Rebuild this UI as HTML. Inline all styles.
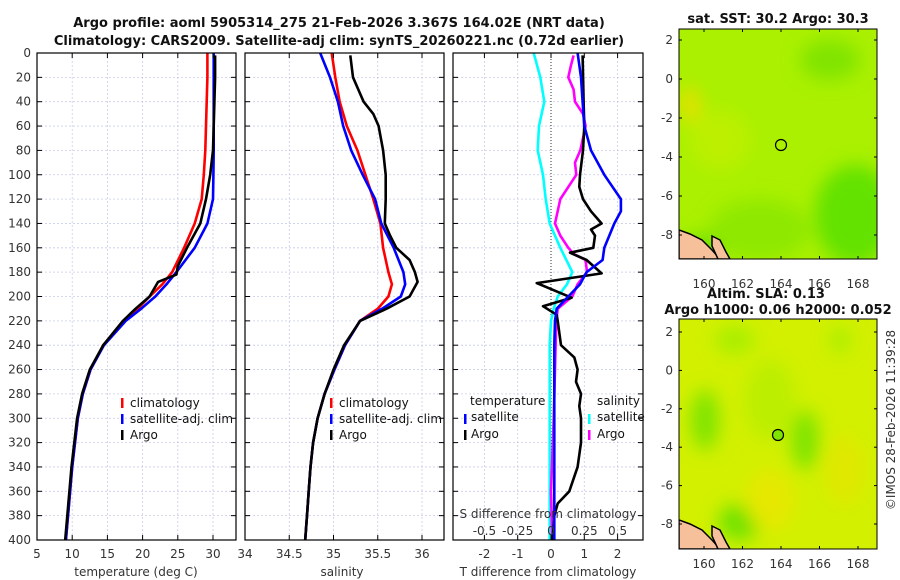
<!DOCTYPE html>
<html><head><meta charset="utf-8">
<style>
html,body{margin:0;padding:0;background:#fff;}
svg{display:block;font-family:"DejaVu Sans","Liberation Sans",sans-serif;}
.t{font-size:12px;fill:#333;}
.b{font-size:13px;font-weight:bold;fill:#111;}
</style></head><body>
<svg id="c" width="900" height="580" viewBox="0 0 900 580">
<defs>
<filter id="bl" x="-50%" y="-50%" width="200%" height="200%"><feGaussianBlur stdDeviation="9"/></filter>
<clipPath id="m1c"><rect x="679" y="29" width="198" height="230"/></clipPath>
<clipPath id="m2c"><rect x="679" y="319" width="198" height="230"/></clipPath>
</defs>
<text class="b" x="339" y="27" text-anchor="middle">Argo profile: aoml 5905314_275 21-Feb-2026 3.367S 164.02E (NRT data)</text>
<text class="b" x="339" y="45" text-anchor="middle">Climatology: CARS2009. Satellite-adj clim: synTS_20260221.nc (0.72d earlier)</text>
<g id="grid"></g>
<g id="lines"></g>
<g id="axes"></g>

<!-- legends -->
<g font-size="12" fill="#111">
<rect x="121" y="398" width="2.5" height="10" fill="#f00"/><text x="130" y="407">climatology</text>
<rect x="121" y="414" width="2.5" height="10" fill="#00f"/><text x="130" y="423">satellite-adj. clim</text>
<rect x="121" y="430" width="2.5" height="10" fill="#000"/><text x="130" y="439">Argo</text>
</g>
<g font-size="12" fill="#111">
<rect x="330" y="398" width="2.5" height="10" fill="#f00"/><text x="339" y="407">climatology</text>
<rect x="330" y="414" width="2.5" height="10" fill="#00f"/><text x="339" y="423">satellite-adj. clim</text>
<rect x="330" y="430" width="2.5" height="10" fill="#000"/><text x="339" y="439">Argo</text>
</g>
<g font-size="12" fill="#111">
<text x="470" y="405">temperature</text><text x="597" y="405">salinity</text>
<rect x="464" y="414" width="2.5" height="10" fill="#00f"/><text x="471" y="421">satellite</text>
<rect x="464" y="430" width="2.5" height="10" fill="#000"/><text x="471" y="438">Argo</text>
<rect x="588" y="414" width="2.5" height="10" fill="#0ff"/><text x="597" y="421">satellite</text>
<rect x="588" y="430" width="2.5" height="10" fill="#f0f"/><text x="597" y="438">Argo</text>
</g>
<text class="t" x="548" y="518" text-anchor="middle" fill="#111">S difference from climatology</text>

<!-- map 1 -->
<g>
<g clip-path="url(#m1c)">
<rect x="679" y="29" width="198" height="230" fill="#aaf000"/>
<g filter="url(#bl)">
<ellipse cx="690" cy="105" rx="10" ry="18" fill="#e8e000"/>
<ellipse cx="855" cy="215" rx="40" ry="50" fill="#64e200"/>
<ellipse cx="830" cy="60" rx="30" ry="20" fill="#80e400"/>
<ellipse cx="760" cy="230" rx="50" ry="30" fill="#8ee800"/>
<ellipse cx="700" cy="250" rx="20" ry="15" fill="#70e000"/>
<ellipse cx="720" cy="140" rx="30" ry="30" fill="#bcf000"/>
</g>
<path d="M679,230 L690,234 L702,240 L712,250 L720,259 L679,259 Z" fill="#f5c09a" stroke="#000" stroke-width="1.5"/>
<path d="M712,236 L720,240 L726,252 L730,259 L718,259 L712,246 Z" fill="#f5c09a" stroke="#000" stroke-width="1.5"/>
</g>
<rect x="679" y="29" width="198" height="230" fill="none" stroke="#000" stroke-width="1"/>
<circle cx="781" cy="145" r="5.5" fill="none" stroke="#000" stroke-width="1.2"/>
</g>
<text class="b" x="778" y="23" text-anchor="middle">sat. SST: 30.2 Argo: 30.3</text>
<text class="b" x="766" y="298" text-anchor="middle">Altim. SLA: 0.13</text>
<text class="b" x="778" y="314" text-anchor="middle">Argo h1000: 0.06 h2000: 0.052</text>

<!-- map 2 -->
<g>
<g clip-path="url(#m2c)">
<rect x="679" y="319" width="198" height="230" fill="#d2f000"/>
<g filter="url(#bl)">
<ellipse cx="705" cy="420" rx="14" ry="30" fill="#7ee400"/>
<ellipse cx="805" cy="440" rx="14" ry="30" fill="#7ee400"/>
<ellipse cx="740" cy="522" rx="22" ry="18" fill="#6ee200"/>
<ellipse cx="735" cy="340" rx="20" ry="14" fill="#a8ee00"/>
<ellipse cx="840" cy="340" rx="10" ry="14" fill="#a8ee00"/>
<ellipse cx="770" cy="400" rx="25" ry="40" fill="#bcee00"/>
<ellipse cx="770" cy="500" rx="25" ry="30" fill="#e6e800"/>
<ellipse cx="845" cy="470" rx="20" ry="35" fill="#e0e800"/>
</g>
<path d="M679,520 L690,524 L702,530 L712,540 L720,549 L679,549 Z" fill="#f5c09a" stroke="#000" stroke-width="1.5"/>
<path d="M712,526 L720,530 L726,542 L730,549 L718,549 L712,536 Z" fill="#f5c09a" stroke="#000" stroke-width="1.5"/>
</g>
<rect x="679" y="319" width="198" height="230" fill="none" stroke="#000" stroke-width="1"/>
<circle cx="778" cy="435" r="5.5" fill="#7ee400" stroke="#000" stroke-width="1.2"/>
</g>
<text class="t" transform="translate(895,420) rotate(-90)" text-anchor="middle" font-size="13">©IMOS 28-Feb-2026 11:39:28</text>
<g id="mapaxes"></g>
</svg>
<script>
// ---- data ----
const depthTicks = [0,20,40,60,80,100,120,140,160,180,200,220,240,260,280,300,320,340,360,380,400];
const tTicks = [5,10,15,20,25,30];
const sTicks = [34,34.5,35,35.5,36];
const dTTicks = [-2,-1,0,1,2];
const dSTickLabels = ["-0.5","-0.25","0","0.25","0.5"];
const dSTicks = [-0.5,-0.25,0,0.25,0.5];
const latTicks = [2,0,-2,-4,-6,-8];
const lonTicks = [160,162,164,166,168];

const profDepth = [0,20,40,60,80,100,120,140,160,180,190,200,210,220,240,260,280,300,320,340,360,380,400];
const tClim = [29.2,29.2,29.1,29.0,28.9,28.7,28.4,27.4,25.9,24.2,22.8,21.0,19.3,17.4,14.4,12.6,11.5,10.8,10.4,10.0,9.7,9.4,9.1];
const tSat  = [30.1,30.1,30.1,30.1,30.1,30.05,30.0,29.2,27.4,24.8,23.4,21.8,19.8,17.6,14.5,12.6,11.5,10.8,10.4,10.0,9.7,9.4,9.1];
const tArgoDepth = [2,20,40,60,80,100,120,140,160,175,182,188,200,210,220,240,260,280,300,320,340,360,380,400];
const tArgo = [30.3,30.3,30.2,30.1,30.0,29.6,29.0,28.2,26.3,25.0,24.8,22.2,21.0,19.0,17.2,14.4,12.5,11.4,10.7,10.3,9.9,9.6,9.3,9.0];

const sClim = [34.98,35.02,35.07,35.15,35.27,35.36,35.45,35.53,35.56,35.62,35.66,35.62,35.5,35.3,35.13,35.01,34.9,34.82,34.77,34.74,34.72,34.7,34.68];
const sSat  = [34.85,34.96,35.05,35.11,35.2,35.33,35.47,35.54,35.68,35.79,35.81,35.76,35.55,35.3,35.13,35.01,34.9,34.82,34.77,34.74,34.72,34.7,34.68];
const sArgoDepth = [2,20,30,40,50,60,80,100,120,140,150,160,170,180,188,200,210,220,240,260,280,300,320,340,360,380,400];
const sArgo = [35.19,35.22,35.28,35.34,35.45,35.51,35.56,35.59,35.59,35.58,35.64,35.71,35.86,35.92,35.95,35.86,35.6,35.3,35.12,35.0,34.9,34.82,34.77,34.74,34.72,34.7,34.68];

const dTSatDepth = [0,20,40,60,80,100,120,130,140,160,170,180,190,200,210,220,240,300,400];
const dTSat = [0.8,0.9,0.95,1.0,1.2,1.6,2.1,2.1,1.9,1.6,1.55,1.07,0.87,0.52,0.17,0.12,0.1,0.1,0.1];
const dTArgoDepth = [2,40,60,80,100,110,120,130,140,145,150,160,164,170,181,189,201,208,215,220,240,250,260,270,280,290,300,320,340,360,370,380,400];
const dTArgo = [0.95,0.98,1.0,0.96,0.87,0.85,0.96,1.2,1.52,1.2,1.32,1.27,0.57,1.07,1.52,-0.43,0.62,-0.24,0.17,0.2,0.3,0.7,0.8,0.75,0.9,0.85,0.9,0.9,0.8,0.55,0.2,0.1,0.05];
const dSSatDepth = [0,20,40,60,80,100,120,140,160,180,190,200,210,220,240,400];
const dSSat = [-0.13,-0.08,-0.05,-0.09,-0.1,-0.06,-0.04,-0.01,0.07,0.16,0.12,0.05,0.02,0.0,-0.01,-0.01];
const dSArgoDepth = [2,10,20,30,40,50,60,80,90,100,120,140,150,160,165,170,180,190,200,210,220,260,300,360,400];
const dSArgo = [0.17,0.15,0.13,0.17,0.18,0.24,0.26,0.22,0.18,0.19,0.07,0.03,0.07,0.13,0.17,0.26,0.27,0.2,0.16,0.05,0.04,0.03,0.02,0.0,0.01];

// ---- scales ----
const Y0=53, PXM=1.2175;
function yD(d){return Y0+d*PXM;}
function xT(t){return 37+(t-5)*7.04;}
function xS(s){return 245+(s-34)*88.5;}
function xDT(v){return 551+v*33.3;}
function xDS(v){return 551+v*133.2;}
function mLonX(l){return 704+(l-160)*19.25;}
function m1LatY(l){return 79-l*19.5;}
function m2LatY(l){return 370.4-l*19.2;}

const NS="http://www.w3.org/2000/svg";
function mk(tag,parent){const e=document.createElementNS(NS,tag);parent.appendChild(e);return e;}
const G=document.getElementById('grid'), L=document.getElementById('lines'), A=document.getElementById('axes'), MA=document.getElementById('mapaxes');
const panels=[{x0:37,x1:236,name:'temperature-panel'},{x0:245,x1:444,name:'salinity-panel'},{x0:453,x1:643,name:'difference-panel'}];

function vgrid(x){const l=mk('line',G);l.setAttribute('x1',x);l.setAttribute('x2',x);l.setAttribute('y1',Y0);l.setAttribute('y2',yD(400));l.setAttribute('stroke','#c8cce8');l.setAttribute('stroke-dasharray','2,2');l.setAttribute('stroke-width','0.8');

}
panels.forEach(p=>{depthTicks.forEach(d=>{const l=mk('line',G);l.setAttribute('x1',p.x0);l.setAttribute('x2',p.x1);l.setAttribute('y1',yD(d));l.setAttribute('y2',yD(d));l.setAttribute('stroke','#c8cce8');l.setAttribute('stroke-dasharray','2,2');l.setAttribute('stroke-width','0.8');

});});
tTicks.slice(1).forEach(t=>vgrid(xT(t)));
sTicks.slice(1).forEach(s=>vgrid(xS(s)));
dTTicks.filter(v=>v!==0).forEach(v=>vgrid(xDT(v)));
{const l=mk('line',G);l.setAttribute('x1',xDT(0));l.setAttribute('x2',xDT(0));l.setAttribute('y1',Y0);l.setAttribute('y2',yD(400));l.setAttribute('stroke','#333');l.setAttribute('stroke-dasharray','1,2');

}

function series(depths,vals,xf,color,name){
  const p=mk('path',L);
  p.setAttribute('d',vals.map((v,i)=>(i?'L':'M')+xf(v).toFixed(1)+','+yD(depths[i]).toFixed(1)).join(''));
  p.setAttribute('fill','none');p.setAttribute('stroke',color);p.setAttribute('stroke-width','2.6');p.setAttribute('stroke-linejoin','round');
  
  
}
series(profDepth,tClim,xT,'#f00','temperature-climatology-line');
series(profDepth,tSat,xT,'#00f','temperature-satellite-line');
series(tArgoDepth,tArgo,xT,'#000','temperature-argo-line');
series(profDepth,sClim,xS,'#f00','salinity-climatology-line');
series(profDepth,sSat,xS,'#00f','salinity-satellite-line');
series(sArgoDepth,sArgo,xS,'#000','salinity-argo-line');
series(dSSatDepth,dSSat,xDS,'#0ff','salinity-satellite-diff-line');
series(dSArgoDepth,dSArgo,xDS,'#f0f','salinity-argo-diff-line');
series(dTArgoDepth,dTArgo,xDT,'#000','temperature-argo-diff-line');
series(dTSatDepth,dTSat,xDT,'#00f','temperature-satellite-diff-line');

function txt(parent,x,y,s,anchor,name){const t=mk('text',parent);t.setAttribute('x',x);t.setAttribute('y',y);t.setAttribute('class','t');t.setAttribute('text-anchor',anchor);t.textContent=s;

return t;}
function ln(parent,x1,y1,x2,y2,w){const l=mk('line',parent);l.setAttribute('x1',x1);l.setAttribute('y1',y1);l.setAttribute('x2',x2);l.setAttribute('y2',y2);l.setAttribute('stroke','#000');l.setAttribute('stroke-width',w||1);

return l;}
panels.forEach(p=>{
  const r=mk('rect',A);r.setAttribute('x',p.x0);r.setAttribute('y',Y0);r.setAttribute('width',p.x1-p.x0);r.setAttribute('height',yD(400)-Y0);r.setAttribute('fill','none');r.setAttribute('stroke','#000');r.setAttribute('stroke-width','1.2');
  
  
  depthTicks.forEach(d=>{ln(A,p.x0,yD(d),p.x0+5,yD(d));ln(A,p.x1-5,yD(d),p.x1,yD(d));});
});
depthTicks.forEach(d=>txt(A,31,yD(d)+4,String(d),'end','depth-tick-label'));
const yb=yD(400);
tTicks.forEach(t=>{ln(A,xT(t),yb,xT(t),yb-5);ln(A,xT(t),Y0,xT(t),Y0+5);txt(A,xT(t),yb+18,String(t),'middle','temperature-tick-label');});
sTicks.forEach(s=>{ln(A,xS(s),yb,xS(s),yb-5);ln(A,xS(s),Y0,xS(s),Y0+5);txt(A,xS(s),yb+18,String(s),'middle','salinity-tick-label');});
dTTicks.forEach(v=>{ln(A,xDT(v),yb,xDT(v),yb-5);txt(A,xDT(v),yb+18,String(v),'middle','t-diff-tick-label');});
dSTicks.forEach((v,i)=>{ln(A,xDS(v),Y0,xDS(v),Y0+5);txt(A,xDS(v),yb-5,dSTickLabels[i],'middle','s-diff-tick-label');});
txt(A,136,yb+36,'temperature (deg C)','middle','temperature-axis-title');
txt(A,342,yb+36,'salinity','middle','salinity-axis-title');
txt(A,548,yb+36,'T difference from climatology','middle','t-diff-axis-title');

[[m1LatY,29,259,288],[m2LatY,319,549,568]].forEach(([fy,top,bot,ly])=>{
  latTicks.forEach(l=>{const y=fy(l);ln(MA,679,y,682,y);ln(MA,874,y,877,y);txt(MA,673,y+4,String(l),'end','map-latitude-label');});
  lonTicks.forEach(l=>{const x=mLonX(l);ln(MA,x,top,x,top+3);ln(MA,x,bot,x,bot-3);txt(MA,x,ly,String(l),'middle','map-longitude-label');});
});
</script>
</body></html>
